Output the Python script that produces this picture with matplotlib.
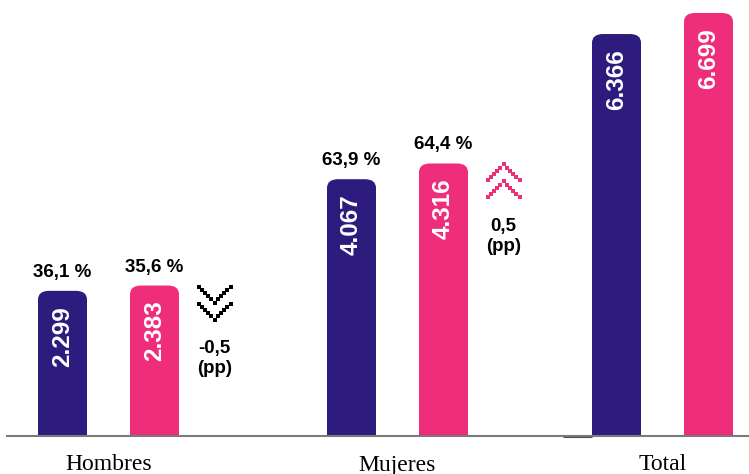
import numpy as np
import matplotlib
matplotlib.use("Agg")
from matplotlib import pyplot as plt
from matplotlib.patches import FancyBboxPatch

# data
categories = ["Hombres", "Mujeres", "Total"]
serie_a = [2299, 4067, 6366]      # navy bars
serie_b = [2383, 4316, 6699]      # pink bars
pct_a = ["36,1 %", "63,9 %", None]
pct_b = ["35,6 %", "64,4 %", None]
cambio = ["-0,5", "0,5", None]    # change in percentage points

navy = "#2d1b7e"
pink = "#ee2d7b"

W, H = 749, 474
fig = plt.figure(figsize=(W / 100, H / 100), dpi=100)
base = 436
px_per_unit = 423 / 6699.0
ax = fig.add_axes([7 / W, (H - base) / H, 1 - 7 / W, base / H])
ax.set_xlim(7, 749)
ax.set_ylim(0, base / px_per_unit)
for s in ["top", "right", "left"]:
    ax.spines[s].set_visible(False)
ax.spines["bottom"].set_color("#7a7a7a")
ax.spines["bottom"].set_linewidth(1.5)
ax.set_yticks([])
ax.set_xticks([])

centers = np.array([108.5, 397.5, 662.5])
off = 46
bw = 49
aspect = 1 / px_per_unit

def rbar(xc, h, color):
    p = FancyBboxPatch((xc - bw / 2, -400), bw, h + 400,
                       boxstyle="round,pad=0,rounding_size=11",
                       mutation_aspect=aspect * 0.8, fc=color, ec="none")
    ax.add_patch(p)

def unit(px):
    return px / px_per_unit

for i, cat in enumerate(categories):
    for xc, v, col, pct in [(centers[i] - off, serie_a[i], navy, pct_a[i]),
                            (centers[i] + off, serie_b[i], pink, pct_b[i])]:
        rbar(xc, v, col)
        ax.text(xc, v - unit(15), f"{v:,}".replace(",", "."), rotation=90,
                ha="center", va="top", color="white", fontsize=17.5,
                fontweight="bold", family="Liberation Sans")
        if pct:
            ax.text(xc, v + unit(10), pct, ha="center", va="bottom",
                    fontsize=13.5, fontweight="bold", family="Liberation Sans")
    fig.text(centers[i] / W, 1 - 465 / H, cat, ha="center", va="center",
             fontsize=17, family="Liberation Serif")

# change markers: dotted double chevrons
def chevrons(xc, ytop_px, up, color):
    xs = np.arange(-16, 17, 3.2)
    for k in range(2):
        y0 = ytop_px + k * 17
        if up:
            ys = y0 + np.abs(xs)
        else:
            ys = y0 + 16 - np.abs(xs)
        ax.scatter(xc + xs, (base - ys) / px_per_unit, marker="s", s=7,
                   color=color, linewidths=0)

for i in range(2):
    xc = centers[i] + off + 60
    top_px = base - serie_b[i] * px_per_unit
    up = not cambio[i].startswith("-")
    col = pink if up else "black"
    chevrons(xc, top_px + 1, up, col)
    ax.text(xc, unit(base - (top_px + 63)), cambio[i], ha="center",
            va="center", fontsize=13.5, fontweight="bold", family="Liberation Sans")
    ax.text(xc, unit(base - (top_px + 83)), "(pp)", ha="center",
            va="center", fontsize=13.5, fontweight="bold", family="Liberation Sans")

# darker short segment on the axis near Total
ax.plot([563, 592], [0, 0], color="#333333", lw=2, clip_on=False,
        solid_capstyle="butt")

fig.savefig("out.png", dpi=100)
